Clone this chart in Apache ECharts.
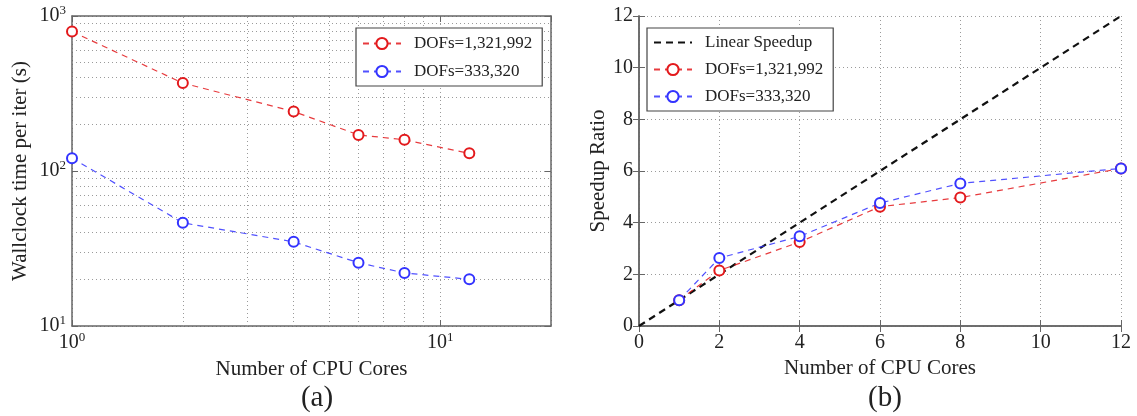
<!DOCTYPE html>
<html>
<head>
<meta charset="utf-8">
<script src="https://cdn.jsdelivr.net/npm/echarts@6/dist/echarts.min.js"></script>
<style>
html,body{margin:0;padding:0;background:#fff;}
#c{width:1137px;height:416px;}
</style>
</head>
<body>
<div id="c"></div>
<script>
// ---- data ----
const cores = [1, 2, 4, 6, 8, 12];
const timeLarge = [793, 369, 242, 171, 159, 130];   // DOFs=1,321,992
const timeSmall = [121, 46.3, 34.9, 25.6, 22.0, 20.0]; // DOFs=333,320
const speedLarge = [1, 2.15, 3.25, 4.62, 4.97, 6.1];
const speedSmall = [1, 2.63, 3.47, 4.76, 5.52, 6.1];
const linearX = [0, 12];
const linearY = [0, 12];
const minorGridX = [2, 3, 4, 5, 6, 7, 8, 9];
const minorGridY = [20, 30, 40, 50, 60, 70, 80, 90, 200, 300, 400, 500, 600, 700, 800, 900];
const logTickLabels = {1: '0', 10: '1', 100: '2', 1000: '3'};
const nameLarge = 'DOFs=1,321,992';
const nameSmall = 'DOFs=333,320';
const nameLinear = 'Linear Speedup';

const FONT = '"Liberation Serif", "DejaVu Serif", serif';
const RED = '#e3191c';
const BLUE = '#3333ff';
const gridLine = {show: true, lineStyle: {type: [1, 3], color: '#9a9a9a', width: 1}};
const axisLine = {show: true, lineStyle: {color: '#666', width: 1.5}};
const pow = v => logTickLabels[Math.round(v)] !== undefined && Math.abs(v - Math.round(v)) < 1e-6
  ? '{b|10}{s|' + logTickLabels[Math.round(v)] + '}' : '';
const richSup = {
  b: {fontFamily: FONT, fontSize: 20, color: '#222', lineHeight: 24},
  s: {fontFamily: FONT, fontSize: 13, color: '#222', verticalAlign: 'top', lineHeight: 24, padding: [0, 0, 10, 0]}
};
const tickLbl = {fontFamily: FONT, fontSize: 20, color: '#222'};
const nameStyle = {fontFamily: FONT, fontSize: 21, color: '#222'};
const tick = {show: true, inside: true, length: 6, lineStyle: {color: '#666'}};

function pairs(xs, ys) { return xs.map((x, i) => [x, ys[i]]); }

const chart = echarts.init(document.getElementById('c'), null, {renderer: 'canvas'});
chart.setOption({
  animation: false,
  backgroundColor: '#fff',
  title: [
    {text: '(a)', left: 312, top: 379, textAlign: 'center', textStyle: {fontFamily: FONT, fontSize: 29, fontWeight: 'normal', color: '#222'}},
    {text: '(b)', left: 880, top: 379, textAlign: 'center', textStyle: {fontFamily: FONT, fontSize: 29, fontWeight: 'normal', color: '#222'}}
  ],
  grid: [
    {left: 72, right: 586, top: 16, bottom: 90, show: false},
    {left: 639, right: 16, top: 16, bottom: 90, show: false}
  ],
  legend: [
    {
      data: [nameLarge, nameSmall],
      orient: 'vertical', left: 356, top: 28,
      padding: [7, 10, 6, 6], itemGap: 11, itemWidth: 38, itemHeight: 14,
      borderColor: '#444', borderWidth: 1.2, backgroundColor: '#fff',
      textStyle: {fontFamily: FONT, fontSize: 17, color: '#222', padding: [0, 0, 0, 8]}
    },
    {
      data: [{name: nameLinear, itemStyle: {opacity: 0}}, nameLarge + ' ', nameSmall + ' '],
      formatter: n => n.trim(),
      orient: 'vertical', left: 647, top: 28,
      padding: [6, 10, 6, 6], itemGap: 10, itemWidth: 38, itemHeight: 14,
      borderColor: '#444', borderWidth: 1.2, backgroundColor: '#fff',
      textStyle: {fontFamily: FONT, fontSize: 17, color: '#222', padding: [0, 0, 0, 8]}
    }
  ],
  xAxis: [
    {type: 'log', gridIndex: 0, min: 1, max: 20, logBase: 10,
     name: 'Number of CPU Cores', nameLocation: 'middle', nameGap: 28, nameTextStyle: nameStyle,
     axisLine: axisLine, axisTick: tick,
     axisLabel: {formatter: pow, rich: richSup, margin: 5, showMaxLabel: false}, splitLine: gridLine},
    {type: 'value', gridIndex: 1, min: 0, max: 12, interval: 2,
     name: 'Number of CPU Cores', nameLocation: 'middle', nameGap: 30, nameTextStyle: nameStyle,
     axisLine: axisLine, axisTick: tick,
     axisLabel: Object.assign({margin: 7}, tickLbl), splitLine: gridLine},
    {type: 'log', gridIndex: 0, min: 1, max: 20, position: 'top',
     axisLine: axisLine, axisTick: tick, axisLabel: {show: false}, splitLine: {show: false}},
    {type: 'value', gridIndex: 1, min: 0, max: 12, interval: 2, position: 'top',
     axisLine: axisLine, axisTick: tick, axisLabel: {show: false}, splitLine: {show: false}}
  ],
  yAxis: [
    {type: 'log', gridIndex: 0, min: 10, max: 1000, logBase: 10,
     name: 'Wallclock time per iter (s)', nameLocation: 'middle', nameGap: 41, nameTextStyle: nameStyle,
     axisLine: axisLine, axisTick: tick,
     axisLabel: {formatter: pow, rich: richSup, margin: 6}, splitLine: gridLine},
    {type: 'value', gridIndex: 1, min: 0, max: 12, interval: 2,
     name: 'Speedup Ratio', nameLocation: 'middle', nameGap: 28, nameTextStyle: nameStyle,
     axisLine: axisLine, axisTick: tick,
     axisLabel: Object.assign({margin: 6}, tickLbl), splitLine: gridLine},
    {type: 'log', gridIndex: 0, min: 10, max: 1000, position: 'right',
     axisLine: axisLine, axisTick: tick, axisLabel: {show: false}, splitLine: {show: false}},
    {type: 'value', gridIndex: 1, min: 0, max: 12, interval: 2, position: 'right',
     axisLine: axisLine, axisTick: tick, axisLabel: {show: false}, splitLine: {show: false}}
  ],
  series: [
    {name: nameLarge, type: 'line', xAxisIndex: 0, yAxisIndex: 0, data: pairs(cores, timeLarge),
     symbol: 'emptyCircle', symbolSize: 10, color: RED,
     itemStyle: {color: RED, borderColor: RED, borderWidth: 2},
     lineStyle: {color: RED, width: 1.2, type: [6, 5], opacity: 0.85},
     markLine: {silent: true, z: 1, symbol: 'none', label: {show: false}, animation: false,
       lineStyle: {type: [1, 3], color: '#9a9a9a', width: 1},
       emphasis: {disabled: true},
       data: minorGridX.map(v => ({xAxis: v})).concat(minorGridY.map(v => ({yAxis: v})))}},
    {name: nameSmall, type: 'line', xAxisIndex: 0, yAxisIndex: 0, data: pairs(cores, timeSmall),
     symbol: 'emptyCircle', symbolSize: 10, color: BLUE,
     itemStyle: {color: BLUE, borderColor: BLUE, borderWidth: 2},
     lineStyle: {color: BLUE, width: 1.2, type: [6, 5], opacity: 0.85}},
    {name: nameLinear, type: 'line', xAxisIndex: 1, yAxisIndex: 1, data: pairs(linearX, linearY),
     symbol: 'none', color: '#111',
     lineStyle: {color: '#111', width: 2.2, type: [7, 5]}},
    {name: nameLarge + ' ', type: 'line', xAxisIndex: 1, yAxisIndex: 1, data: pairs(cores, speedLarge),
     symbol: 'emptyCircle', symbolSize: 10, color: RED,
     itemStyle: {color: RED, borderColor: RED, borderWidth: 2},
     lineStyle: {color: RED, width: 1.2, type: [6, 5], opacity: 0.85}},
    {name: nameSmall + ' ', type: 'line', xAxisIndex: 1, yAxisIndex: 1, data: pairs(cores, speedSmall),
     symbol: 'emptyCircle', symbolSize: 10, color: BLUE,
     itemStyle: {color: BLUE, borderColor: BLUE, borderWidth: 2},
     lineStyle: {color: BLUE, width: 1.2, type: [6, 5], opacity: 0.85}}
  ]
});
</script>
</body>
</html>
